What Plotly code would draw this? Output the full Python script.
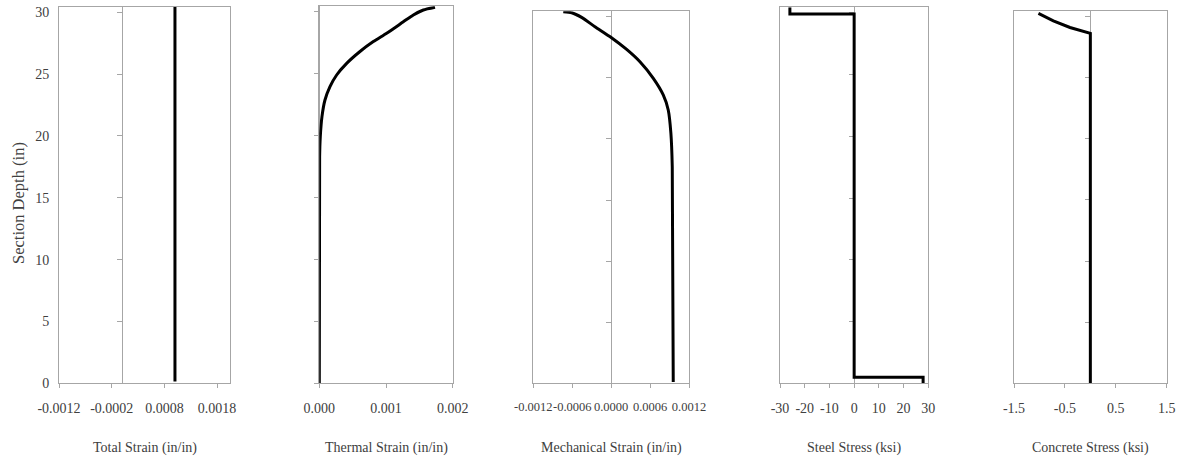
import plotly.graph_objects as go

# ---- data: section depth profiles ----
total_depth = [0.15, 30.45]
total_strain = [0.0010, 0.0010]

thermal_depth = [30.37, 30.15, 29.75, 29.2, 28.27, 27.6, 26.8, 25.84, 24.9, 23.96,
                 22.88, 21.54, 19.92, 18.3, 0.0]
thermal_strain = [0.001735, 0.00156, 0.00141, 0.00126, 0.00101, 0.00081, 0.00061,
                  0.00041, 0.00026, 0.00016, 0.000085, 0.00004, 0.000015, 0.000005, 0.0]

mech_depth = [30.41, 30.33, 29.95, 29.19, 28.31, 27.33, 26.32, 24.96, 23.6, 22.37,
              20.46, 17.73, 0.1]
mech_strain = [-0.000738, -0.000609, -0.000455, -0.00025, 0.0, 0.000239, 0.000444,
               0.00065, 0.000803, 0.00088, 0.000921, 0.000942, 0.000957]

steel_depth = [30.45, 29.9, 29.9, 0.5, 0.5, 0.0]
steel_stress = [-26.0, -26.0, 0.0, 0.0, 27.9, 27.9]

conc_depth = [30.25, 29.65, 29.1, 28.75, 28.62, 0.0]
conc_stress = [-1.02, -0.727, -0.40, -0.14, 0.0, 0.0]

depth_ticks = [0, 5, 10, 15, 20, 25, 30]
depth_range = [0, 30.45]

W, H = 1183, 463
GRAY = "#a6a6a6"
TXT = "#404040"
FAMILY = "Liberation Serif"
FONT = dict(family=FAMILY, size=14, color=TXT)

panels = [
    dict(x=total_strain, y=total_depth, px=(59.0, 230.3), top=6.7,
         xr=[-0.0012, 0.00205], tv=[-0.0012, -0.0002, 0.0008, 0.0018],
         tt=["-0.0012", "-0.0002", "0.0008", "0.0018"], tfs=14,
         title="Total Strain (in/in)", shape="linear"),
    dict(x=thermal_strain, y=thermal_depth, px=(319.3, 452.7), top=6.3,
         xr=[0, 0.002], tv=[0, 0.001, 0.002],
         tt=["0.000", "0.001", "0.002"], tfs=14,
         title="Thermal Strain (in/in)", shape="spline"),
    dict(x=mech_strain, y=mech_depth, px=(533.3, 689.0), top=11.3,
         xr=[-0.0012, 0.0012], tv=[-0.0012, -0.0006, 0, 0.0006, 0.0012],
         tt=["-0.0012", "-0.0006", "0.0000", "0.0006", "0.0012"], tfs=12.5,
         title="Mechanical Strain (in/in)", shape="spline"),
    dict(x=steel_stress, y=steel_depth, px=(780.0, 928.3), top=7.3,
         xr=[-30, 30], tv=[-30, -20, -10, 0, 10, 20, 30],
         tt=["-30", "-20", "-10", "0", "10", "20", "30"], tfs=14,
         title="Steel Stress (ksi)", shape="linear"),
    dict(x=conc_stress, y=conc_depth, px=(1014.0, 1166.7), top=11.0,
         xr=[-1.5, 1.5], tv=[-1.5, -0.5, 0.5, 1.5],
         tt=["-1.5", "-0.5", "0.5", "1.5"], tfs=14,
         title="Concrete Stress (ksi)", shape="linear"),
]

BOTTOM = 383.3
fig = go.Figure()
layout = dict(
    width=W, height=H, margin=dict(l=0, r=0, t=0, b=0, autoexpand=False),
    paper_bgcolor="white", plot_bgcolor="white", showlegend=False,
    font=FONT, annotations=[],
)

n = len(panels)
for i, p in enumerate(panels, start=1):
    x0, x1 = p["px"][0] / W, p["px"][1] / W
    ydom = [1 - BOTTOM / H, 1 - p["top"] / H]
    xa = "xaxis" if i == 1 else f"xaxis{i}"
    ya = "yaxis" if i == 1 else f"yaxis{i}"
    yo = f"yaxis{n + i}"
    xname = "x" if i == 1 else f"x{i}"
    yname = "y" if i == 1 else f"y{i}"

    layout[xa] = dict(
        domain=[x0, x1], range=p["xr"], anchor=yname,
        tickmode="array", tickvals=p["tv"], ticktext=p["tt"],
        ticks="outside", ticklen=4, tickcolor=GRAY, tickwidth=1,
        showline=True, linecolor=GRAY, linewidth=1, mirror=True,
        showgrid=False, zeroline=False, tickangle=0,
        tickfont=dict(family=FAMILY, size=p["tfs"], color=TXT),
        automargin=False, ticklabelstandoff=8, fixedrange=True,
    )
    layout[ya] = dict(
        domain=ydom, range=depth_range, anchor=xname,
        tickmode="array", tickvals=depth_ticks,
        ticks="", showticklabels=(i == 1), tickfont=FONT,
        showline=True, linecolor=GRAY, linewidth=1, mirror=True,
        showgrid=False, zeroline=False, ticklabelstandoff=6,
        automargin=False, fixedrange=True,
    )
    # value axis crossing at zero, carrying the depth tick marks
    zero_px = x0 + (0 - p["xr"][0]) / (p["xr"][1] - p["xr"][0]) * (x1 - x0)
    layout[yo] = dict(
        overlaying=yname, anchor="free", position=zero_px, side="left",
        range=depth_range, tickmode="array", tickvals=depth_ticks,
        ticks="outside", ticklen=5, tickcolor=GRAY, tickwidth=1,
        showticklabels=False, showline=True, linecolor=GRAY, linewidth=1,
        showgrid=False, zeroline=False, automargin=False, fixedrange=True,
        layer="below traces",
    )

    # empty trace keeps the framed base subplot registered
    fig.add_trace(go.Scatter(x=[], y=[], xaxis=xname, yaxis=yname,
                             hoverinfo="skip"))
    fig.add_trace(go.Scatter(
        x=p["x"], y=p["y"], mode="lines",
        line=dict(color="black", width=3, shape=p["shape"], smoothing=0.6),
        xaxis=xname, yaxis=f"y{n + i}", hoverinfo="skip",
    ))

    layout["annotations"].append(dict(
        text=p["title"], x=(x0 + x1) / 2, y=1 - 448 / H,
        xref="paper", yref="paper", xanchor="center", yanchor="middle",
        showarrow=False, font=FONT,
    ))

layout["annotations"].append(dict(
    text="Section Depth (in)", x=18 / W, y=1 - 203 / H, textangle=-90,
    xref="paper", yref="paper", xanchor="center", yanchor="middle",
    showarrow=False, font=dict(family=FAMILY, size=16.5, color=TXT),
))

fig.update_layout(**layout)
fig.write_html("out.html")
